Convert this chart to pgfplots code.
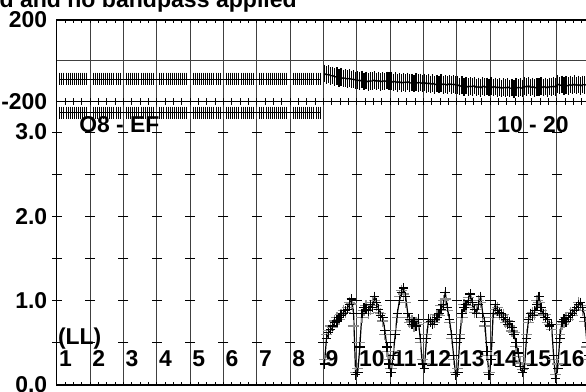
\documentclass[border=0pt]{standalone}
\usepackage{pgfplots}
\usepackage{pgfplotstable}
\pgfplotsset{compat=1.18}
\usepackage{fontspec}
\setmainfont{Liberation Sans}

\newcommand\lbl{\fontsize{16.3}{19}\selectfont\bfseries}

% flagged IFs 1-8 (channels 2..15 of each IF)
\pgfplotstableread[row sep=\\]{
ch ph amp\\
2 -90 3.23\\ 3 -90 3.23\\ 4 -90 3.23\\ 5 -90 3.23\\ 6 -90 3.23\\ 7 -90 3.23\\ 8 -90 3.23\\
9 -90 3.23\\ 10 -90 3.23\\ 11 -90 3.23\\ 12 -90 3.23\\ 13 -90 3.23\\ 14 -90 3.23\\ 15 -90 3.23\\
18 -90 3.23\\ 19 -90 3.23\\ 20 -90 3.23\\ 21 -90 3.23\\ 22 -90 3.23\\ 23 -90 3.23\\ 24 -90 3.23\\
25 -90 3.23\\ 26 -90 3.23\\ 27 -90 3.23\\ 28 -90 3.23\\ 29 -90 3.23\\ 30 -90 3.23\\ 31 -90 3.23\\
34 -90 3.23\\ 35 -90 3.23\\ 36 -90 3.23\\ 37 -90 3.23\\ 38 -90 3.23\\ 39 -90 3.23\\ 40 -90 3.23\\
41 -90 3.23\\ 42 -90 3.23\\ 43 -90 3.23\\ 44 -90 3.23\\ 45 -90 3.23\\ 46 -90 3.23\\ 47 -90 3.23\\
50 -90 3.23\\ 51 -90 3.23\\ 52 -90 3.23\\ 53 -90 3.23\\ 54 -90 3.23\\ 55 -90 3.23\\ 56 -90 3.23\\
57 -90 3.23\\ 58 -90 3.23\\ 59 -90 3.23\\ 60 -90 3.23\\ 61 -90 3.23\\ 62 -90 3.23\\ 63 -90 3.23\\
66 -90 3.23\\ 67 -90 3.23\\ 68 -90 3.23\\ 69 -90 3.23\\ 70 -90 3.23\\ 71 -90 3.23\\ 72 -90 3.23\\
73 -90 3.23\\ 74 -90 3.23\\ 75 -90 3.23\\ 76 -90 3.23\\ 77 -90 3.23\\ 78 -90 3.23\\ 79 -90 3.23\\
82 -90 3.23\\ 83 -90 3.23\\ 84 -90 3.23\\ 85 -90 3.23\\ 86 -90 3.23\\ 87 -90 3.23\\ 88 -90 3.23\\
89 -90 3.23\\ 90 -90 3.23\\ 91 -90 3.23\\ 92 -90 3.23\\ 93 -90 3.23\\ 94 -90 3.23\\ 95 -90 3.23\\
98 -90 3.23\\ 99 -90 3.23\\ 100 -90 3.23\\ 101 -90 3.23\\ 102 -90 3.23\\ 103 -90 3.23\\ 104 -90 3.23\\
105 -90 3.23\\ 106 -90 3.23\\ 107 -90 3.23\\ 108 -90 3.23\\ 109 -90 3.23\\ 110 -90 3.23\\ 111 -90 3.23\\
114 -90 3.23\\ 115 -90 3.23\\ 116 -90 3.23\\ 117 -90 3.23\\ 118 -90 3.23\\ 119 -90 3.23\\ 120 -90 3.23\\
121 -90 3.23\\ 122 -90 3.23\\ 123 -90 3.23\\ 124 -90 3.23\\ 125 -90 3.23\\ 126 -90 3.23\\ 127 -90 3.23\\
}\flagdata

% IFs 9-16
\pgfplotstableread{
ch ph amp amp2
129 -62 0.25 0.30
130 -70 0.55 0.60
131 -66 0.62 0.65
132 -74 0.66 0.70
133 -72 0.70 0.68
134 -80 0.74 0.76
135 -76 0.76 0.80
136 -84 0.80 0.78
137 -80 0.82 0.84
138 -88 0.85 0.88
139 -84 0.88 0.86
140 -90 0.90 0.92
141 -86 0.95 0.98
142 -92 1.02 0.96
143 -90 0.85 0.70
144 -96 0.12 0.15
145 -94 0.15 0.20
146 -100 0.45 0.50
147 -92 0.85 0.80
148 -102 0.92 0.88
149 -96 0.90 0.94
150 -104 0.88 0.85
151 -98 0.95 0.90
152 -100 0.92 0.98
153 -94 1.05 1.00
154 -102 0.98 0.94
155 -96 0.90 0.86
156 -104 0.82 0.85
157 -98 0.80 0.76
158 -102 0.65 0.60
159 -96 0.45 0.40
160 -100 0.25 0.30
161 -98 0.15 0.20
162 -106 0.35 0.40
163 -100 0.60 0.65
164 -108 0.85 0.80
165 -102 1.00 1.05
166 -110 1.10 1.12
167 -104 1.15 1.08
168 -108 1.05 0.98
169 -102 0.85 0.80
170 -110 0.78 0.74
171 -106 0.72 0.76
172 -112 0.75 0.70
173 -104 0.70 0.74
174 -110 0.78 0.72
175 -106 0.55 0.50
176 -112 0.25 0.30
177 -106 0.20 0.25
178 -114 0.55 0.60
179 -108 0.78 0.74
180 -116 0.75 0.78
181 -110 0.72 0.76
182 -118 0.78 0.74
183 -112 0.80 0.84
184 -116 0.85 0.82
185 -110 0.90 0.94
186 -118 0.95 1.00
187 -114 1.10 1.02
188 -120 0.92 0.88
189 -112 0.78 0.74
190 -118 0.60 0.55
191 -114 0.35 0.30
192 -120 0.12 0.15
193 -118 0.15 0.20
194 -126 0.55 0.60
195 -120 0.85 0.80
196 -128 0.92 0.95
197 -122 0.95 0.92
198 -130 1.00 1.04
199 -124 1.08 1.00
200 -128 0.98 0.94
201 -122 0.90 0.86
202 -132 0.85 0.90
203 -126 0.95 1.00
204 -134 1.05 0.98
205 -124 0.85 0.80
206 -130 0.75 0.70
207 -126 0.40 0.35
208 -132 0.12 0.15
209 -124 0.30 0.35
210 -132 0.85 0.80
211 -126 0.95 0.90
212 -134 0.88 0.92
213 -128 0.86 0.84
214 -136 0.85 0.82
215 -130 0.80 0.84
216 -134 0.78 0.74
217 -128 0.72 0.76
218 -136 0.75 0.70
219 -132 0.68 0.64
220 -138 0.60 0.62
221 -128 0.50 0.46
222 -134 0.38 0.34
223 -130 0.22 0.26
224 -136 0.15 0.18
225 -124 0.20 0.25
226 -130 0.55 0.60
227 -122 0.78 0.74
228 -132 0.85 0.80
229 -126 0.82 0.86
230 -134 0.88 0.84
231 -128 0.95 1.00
232 -130 1.05 0.98
233 -124 0.92 0.88
234 -132 0.85 0.82
235 -126 0.80 0.84
236 -134 0.78 0.74
237 -126 0.70 0.72
238 -130 0.72 0.66
239 -124 0.35 0.30
240 -130 0.08 0.12
241 -114 0.20 0.25
242 -122 0.55 0.60
243 -116 0.75 0.72
244 -124 0.78 0.74
245 -118 0.75 0.80
246 -124 0.80 0.78
247 -116 0.82 0.86
248 -122 0.85 0.82
249 -114 0.88 0.90
250 -122 0.92 0.88
251 -116 0.95 0.98
252 -124 0.98 0.94
253 -116 0.92 0.88
254 -120 0.80 0.75
255 -114 0.50 0.45
256 -120 0.35 0.30
}\chandata

\pgfplotsset{
  possm/.style={
    scale only axis,
    width=133.333mm,
    xmin=0.5, xmax=256.5,
    xtick={0.5,16.5,...,256.5},
    xticklabels={},
    minor x tick num=3,
    xmajorgrids,
    major grid style={black!75, line width=0.25mm},
    axis line style={line width=0.3mm},
    tick style={black, line width=0.25mm},
    major tick length=0.8mm,
    minor tick length=0.8mm,
    ytick style={draw=none},
    yticklabel style={font=\lbl, anchor=east, inner sep=0pt, xshift=-2.3mm},
  },
}

\begin{document}
\begin{tikzpicture}
\useasboundingbox (0,0) rectangle (146.5mm,97.75mm);

% phase panel
\begin{axis}[possm,
  at={(14.175mm,72.375mm)}, anchor=south west,
  height=20.375mm,
  ymin=-200, ymax=200,
  ytick={-200,0,200},
  yticklabels={-200,,200},
  ymajorgrids,
  ]
  \addplot[black, line width=0.25mm, mark=|, mark size=1.6mm]
    table[x=ch, y=ph] {\flagdata};
  \addplot[black, line width=0.3mm, mark=|, mark size=2.2mm]
    table[x=ch, y=ph] {\chandata};
\end{axis}

% amplitude panel
\begin{axis}[possm,
  at={(14.175mm,1.5mm)}, anchor=south west,
  height=70.875mm,
  ymin=0, ymax=3.362,
  ytick={0,1,2,3},
  yticklabels={0.0,1.0,2.0,3.0},
  ]
  \pgfplotsinvokeforeach{0.5,1,1.5,2,2.5,3}{
    \addplot[black, line width=0.25mm, only marks, mark=-, mark size=1.25mm]
      coordinates {(0.5,#1)(16.5,#1)(32.5,#1)(48.5,#1)(64.5,#1)(80.5,#1)(96.5,#1)
        (112.5,#1)(128.5,#1)(144.5,#1)(160.5,#1)(176.5,#1)(192.5,#1)(208.5,#1)
        (224.5,#1)(240.5,#1)};
  }
  \addplot[black, line width=0.25mm, mark=|, mark size=1.5mm]
    table[x=ch, y=amp] {\flagdata};
  \addplot[black!45, line width=0.3mm, only marks, mark=+, mark size=1.4mm]
    table[x=ch, y=amp2] {\chandata};
  \addplot[black, line width=0.3mm, mark=+, mark size=1.2mm]
    table[x=ch, y=amp] {\chandata};

  \node[anchor=base west, font=\lbl, inner sep=0pt] at (axis cs:11.2,2.99) {O8 - EF};
  \node[anchor=base west, font=\lbl, inner sep=0pt] at (axis cs:211.9,2.99) {10 - 20};
  \node[anchor=base west, font=\lbl, inner sep=0pt] at (axis cs:1.0,0.486) {(LL)};
  \node[anchor=base west, font=\lbl, inner sep=0pt] at (axis cs:1.5,0.217) {1};
  \node[anchor=base west, font=\lbl, inner sep=0pt] at (axis cs:17.5,0.217) {2};
  \node[anchor=base west, font=\lbl, inner sep=0pt] at (axis cs:33.5,0.217) {3};
  \node[anchor=base west, font=\lbl, inner sep=0pt] at (axis cs:49.5,0.217) {4};
  \node[anchor=base west, font=\lbl, inner sep=0pt] at (axis cs:65.5,0.217) {5};
  \node[anchor=base west, font=\lbl, inner sep=0pt] at (axis cs:81.5,0.217) {6};
  \node[anchor=base west, font=\lbl, inner sep=0pt] at (axis cs:97.5,0.217) {7};
  \node[anchor=base west, font=\lbl, inner sep=0pt] at (axis cs:113.5,0.217) {8};
  \node[anchor=base west, font=\lbl, inner sep=0pt] at (axis cs:129.5,0.217) {9};
  \node[anchor=base west, font=\lbl, inner sep=0pt] at (axis cs:145.5,0.217) {10};
  \node[anchor=base west, font=\lbl, inner sep=0pt] at (axis cs:161.5,0.217) {11};
  \node[anchor=base west, font=\lbl, inner sep=0pt] at (axis cs:177.5,0.217) {12};
  \node[anchor=base west, font=\lbl, inner sep=0pt] at (axis cs:193.5,0.217) {13};
  \node[anchor=base west, font=\lbl, inner sep=0pt] at (axis cs:209.5,0.217) {14};
  \node[anchor=base west, font=\lbl, inner sep=0pt] at (axis cs:225.5,0.217) {15};
  \node[anchor=base west, font=\lbl, inner sep=0pt] at (axis cs:241.5,0.217) {16};
\end{axis}

\node[anchor=base east, inner sep=0pt, font=\fontsize{16.4}{19}\selectfont\bfseries]
  at (74.25mm,96mm) {d and no bandpass applied};
\end{tikzpicture}
\end{document}
